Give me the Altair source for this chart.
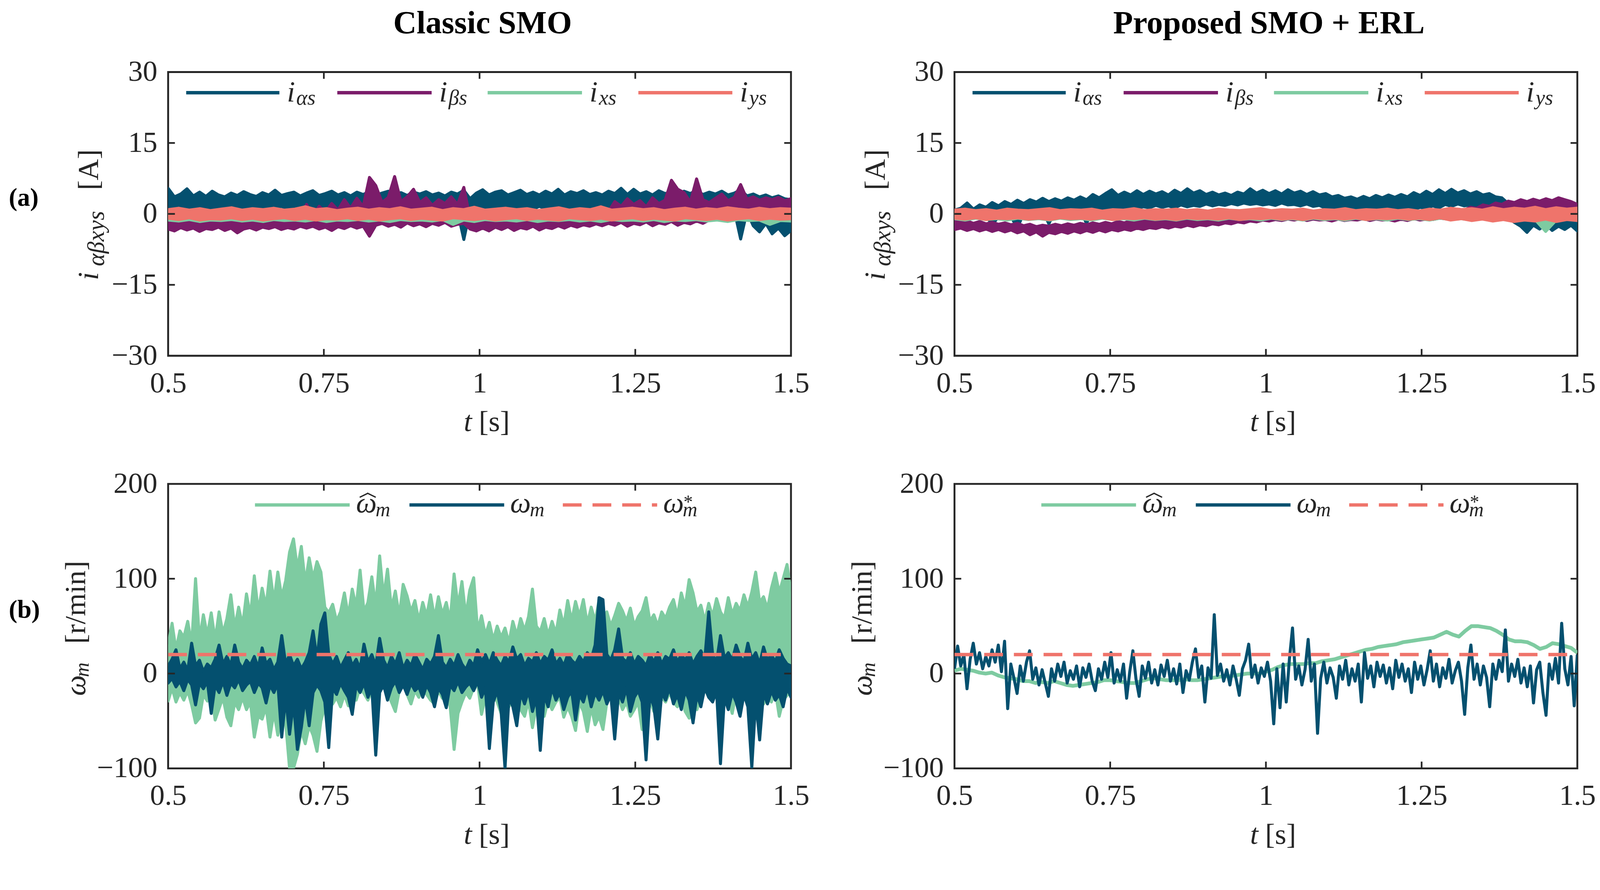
import altair as alt
import numpy as np
import pandas as pd

# ---------------- colours / fonts ----------------
BLUE = "#04506F"
PURPLE = "#7B1C6A"
GREEN = "#7ECBA1"
SALMON = "#EF746B"
FRAME = "#262626"
INK = "#262626"
SERIF = "Liberation Serif"

# ---------------- texts / ticks ----------------
panel_titles = ["Classic SMO", "Proposed SMO + ERL"]
row_labels = ["(a)", "(b)"]
x_ticks = [0.5, 0.75, 1.0, 1.25, 1.5]
cur_ticks = [-30, -15, 0, 15, 30]
spd_ticks = [-100, 0, 100, 200]
cur_subs = ["αs", "βs", "xs", "ys"]
ref_t = [0.5, 1.5]
ref_w = [20, 20]

# ---------------- (a) classic SMO currents: band upper / lower envelopes [A] ----------------
cl_ia_hi = [5.4,3.6,4.2,5.3,3.8,4.6,3.7,4.8,4.0,3.6,
            4.4,3.9,4.7,4.1,3.7,4.5,4.0,5.0,3.9,4.3,
            4.6,3.8,4.4,4.9,3.9,4.3,4.8,4.0,4.5,3.8,
            4.6,4.1,4.7,3.9,4.4,4.8,4.0,4.5,3.9,4.6,
            4.2,4.7,4.0,4.4,3.8,4.6,4.2,5.0,3.2,4.4,
            5.1,4.0,4.6,4.9,4.0,4.5,5.0,4.1,4.6,4.0,
            4.8,4.2,5.2,4.0,4.7,4.3,4.9,4.1,4.5,4.0,
            4.8,4.3,5.4,4.1,5.2,4.2,4.7,4.0,4.9,4.3,
            4.6,4.0,4.8,4.3,5.0,4.1,4.6,4.2,4.8,4.0,
            4.4,5.1,3.8,4.2,3.6,4.0,3.4,3.8,3.2,3.0]
cl_ia_lo = [-0.3,1.2,0.9,1.4,1.0,1.5,0.8,1.3,1.1,1.6,
            0.9,1.4,1.0,1.5,1.2,0.8,1.4,1.1,1.6,1.0,
            1.3,0.9,1.5,1.1,1.4,0.9,1.3,1.0,1.5,1.2,
            0.8,1.4,1.0,1.3,0.9,1.5,1.1,1.4,0.9,1.2,
            1.0,1.5,1.1,0.8,1.3,1.0,0.6,-5.4,0.9,1.3,
            1.0,1.4,0.9,1.5,1.1,1.3,0.8,1.4,1.0,1.6,
            1.1,1.3,0.9,1.5,1.0,1.4,1.2,0.8,1.3,1.0,
            1.5,1.1,1.4,0.9,1.3,1.0,1.6,1.1,1.4,0.9,
            1.3,1.0,1.5,1.2,0.8,1.4,1.0,1.3,0.9,1.2,
            0.7,-5.3,0.5,-2.5,-3.8,-2.0,-4.2,-3.0,-4.6,-3.5]
cl_ib_hi = [-1.4,-1.8,-1.3,-1.6,-1.2,-1.7,-1.4,-1.1,-1.6,-1.3,
            -1.0,-1.5,-1.2,-1.6,-0.9,-1.3,-1.1,-1.5,-0.8,-1.2,
            -0.9,-0.5,2.0,-0.3,1.6,0.4,2.2,0.8,3.0,1.2,
            3.3,1.5,7.7,6.0,2.4,3.5,7.9,2.6,3.6,5.2,
            2.4,3.4,1.8,3.0,2.2,3.6,2.0,5.6,-1.0,-1.3,
            -1.0,-1.4,-0.9,-1.3,-1.1,-1.5,-0.8,-1.2,-1.0,-1.4,
            -0.7,-1.1,-0.9,-1.3,-0.6,-1.0,-0.5,0.9,-0.3,1.2,
            0.5,2.6,1.6,3.2,2.0,2.8,1.5,3.4,2.2,2.9,
            7.1,5.2,4.5,2.5,7.4,3.0,2.4,3.3,4.2,2.8,
            3.5,6.2,3.1,3.6,2.9,3.4,3.0,3.5,2.8,3.2]
cl_ib_lo = [-3.2,-3.6,-2.9,-3.4,-3.0,-3.7,-3.1,-3.3,-2.8,-3.5,
            -3.0,-4.0,-3.2,-2.9,-3.4,-2.8,-3.1,-2.7,-3.3,-2.9,
            -3.2,-2.6,-3.0,-2.6,-3.2,-2.8,-3.5,-2.7,-3.1,-2.5,
            -3.0,-2.6,-4.7,-2.4,-2.0,-2.6,-2.2,-2.8,-1.9,-2.5,
            -2.1,-2.7,-2.0,-2.4,-1.8,-2.6,-2.2,-2.0,-3.2,-3.6,
            -3.0,-3.6,-2.8,-3.3,-2.7,-3.5,-2.9,-3.2,-2.6,-3.4,
            -2.8,-3.1,-2.5,-3.0,-2.4,-2.8,-2.3,-2.6,-2.1,-2.5,
            -2.0,-2.4,-1.8,-2.6,-2.0,-2.3,-1.7,-2.5,-1.9,-2.2,
            -1.6,-2.4,-1.8,-2.1,-1.5,-2.0,-1.3,1.2,0.9,1.4,
            1.0,1.3,0.8,1.2,1.0,1.4,0.9,1.1,0.8,1.0]
cl_ix_hi = [0.5,0.7,0.4,0.8,0.5,0.6,0.3,0.7,0.5,0.8,
            0.4,0.6,0.5,0.7,0.3,0.6,0.5,0.8,0.4,0.7,
            0.5,0.6,0.4,0.8,0.5,0.7,0.3,0.6,0.5,0.7,
            0.4,0.8,0.5,0.6,0.3,0.7,0.5,0.8,0.4,0.6,
            0.5,0.7,0.4,0.8,0.5,0.6,0.3,0.7,0.5,0.8,
            0.4,0.6,0.5,0.7,0.4,0.8,0.5,0.6,0.4,0.7]
cl_ix_lo = [-1.3,-1.5,-1.2,-1.6,-1.3,-1.4,-1.2,-1.5,-1.3,-1.6,
            -1.2,-1.4,-1.3,-1.5,-1.2,-1.6,-1.3,-1.4,-1.2,-1.5,
            -1.3,-1.6,-1.2,-1.4,-1.3,-1.5,-1.2,-2.2,-1.3,-1.6,
            -1.2,-1.4,-1.3,-1.5,-1.2,-1.6,-1.3,-1.4,-1.2,-1.5,
            -1.3,-1.6,-1.2,-1.4,-1.3,-1.5,-1.2,-1.6,-1.3,-1.4,
            -1.2,-1.5,-1.3,-1.6,-1.2,-1.4,-1.3,-2.2,-1.4,-1.5]
cl_iy_hi = [0.9,1.2,0.8,1.1,0.7,1.0,1.3,0.8,1.1,0.9,
            1.2,0.8,1.0,1.5,0.9,1.1,0.7,1.0,1.2,0.8,
            1.1,0.9,1.3,0.8,1.0,1.2,0.7,1.1,0.9,1.4,
            0.8,1.0,1.2,0.9,1.1,0.7,1.0,1.3,0.8,1.1,
            0.9,1.5,0.8,1.0,1.2,0.9,1.1,0.7,1.0,1.2,
            0.8,1.1,0.9,1.3,1.0,0.8,1.2,0.9,1.1,1.0]
cl_iy_lo = [-0.9,-1.2,-0.8,-1.3,-1.0,-1.1,-0.8,-1.2,-0.9,-1.3,
            -1.0,-0.8,-1.2,-0.9,-1.3,-1.0,-1.1,-0.8,-1.2,-0.9,
            -1.3,-1.0,-0.8,-1.2,-0.9,-1.1,-1.3,-0.8,-1.0,-1.2,
            -0.9,-1.3,-1.0,-0.8,-1.2,-0.9,-1.1,-1.3,-0.8,-1.0,
            -1.2,-0.9,-1.3,-1.0,-0.8,-1.2,-0.9,-1.1,-1.3,-0.8,
            -1.0,-1.2,-0.9,-1.3,-1.0,-0.8,-1.2,-0.9,-1.1,-1.0]

# ---------------- (a) proposed SMO + ERL currents [A] ----------------
pr_ia_hi = [0.8,1.2,2.3,1.0,1.9,1.4,2.4,1.7,2.6,2.0,
            2.9,2.2,3.0,2.5,3.3,2.6,3.2,2.7,3.4,2.9,
            3.6,3.0,4.1,3.4,4.3,5.1,3.9,4.6,4.0,4.9,
            4.1,4.8,4.2,4.7,4.0,5.0,4.3,5.3,4.4,4.9,
            4.1,4.6,4.0,4.4,3.9,4.6,4.2,5.3,4.4,5.0,
            4.3,4.9,4.2,5.1,4.4,4.8,4.1,4.7,4.0,4.3,
            3.6,3.9,3.3,3.6,3.1,3.7,3.2,3.9,3.4,4.0,
            3.5,4.1,3.6,4.5,3.9,4.8,4.1,5.1,4.3,5.2,
            4.4,4.9,4.2,4.7,4.0,4.3,3.6,3.4,2.2,0.6,
            -0.4,-0.9,-0.5,-1.1,-0.6,-1.0,-0.4,-0.9,-0.5,-0.8]
pr_ia_lo = [-0.9,-0.4,-1.2,-0.3,-0.8,-0.2,-2.4,-0.5,0.0,-0.6,
            -3.0,0.2,0.6,0.1,0.8,-2.1,0.7,1.0,0.5,0.9,
            0.6,-2.0,1.1,0.8,1.3,0.9,1.4,1.1,1.6,1.2,
            1.5,1.3,1.8,1.4,1.7,1.3,1.9,1.5,1.8,1.6,
            2.1,1.7,2.0,1.8,2.2,1.9,2.3,2.0,2.2,1.9,
            2.1,1.8,2.3,1.9,2.0,1.7,2.1,1.6,1.8,1.2,
            0.9,0.6,1.0,0.5,0.8,0.4,0.9,0.6,1.1,0.7,
            1.0,0.6,1.2,0.9,1.4,1.1,1.7,1.3,2.0,1.6,
            2.1,1.7,1.9,1.5,1.8,1.3,1.0,0.4,-0.8,-1.8,
            -2.6,-3.9,-2.4,-3.2,-2.2,-3.5,-2.6,-3.3,-2.4,-3.6]
pr_ib_hi = [-1.4,-1.8,-1.5,-2.0,-1.6,-2.1,-1.8,-2.2,-1.9,-2.3,
            -2.0,-2.5,-2.2,-2.7,-2.4,-2.6,-2.2,-2.5,-2.1,-2.4,
            -2.0,-2.3,-1.9,-2.2,-1.8,-2.1,-1.6,-1.9,-1.4,-1.7,
            -1.1,-1.4,-0.9,-1.2,-0.7,-1.0,-0.5,-0.8,-0.3,-0.6,
            -0.2,-0.4,0.0,-0.2,0.1,-0.1,0.2,0.0,0.3,0.1,
            0.3,0.1,0.4,0.2,0.3,0.0,0.4,0.2,0.3,0.1,
            0.4,0.2,0.3,0.1,0.4,0.2,0.3,0.0,0.4,0.2,
            0.3,0.1,0.4,0.2,0.5,0.3,0.6,0.4,0.8,0.6,
            1.0,0.8,1.4,1.2,1.9,1.6,2.3,2.0,2.7,2.4,
            3.0,2.6,3.1,2.7,3.2,2.8,3.4,3.0,2.6,2.0]
pr_ib_lo = [-3.3,-3.0,-3.5,-3.1,-3.6,-3.2,-3.7,-3.3,-3.8,-3.4,
            -4.0,-3.6,-4.4,-3.8,-4.7,-3.9,-4.2,-3.7,-4.1,-3.6,
            -4.0,-3.5,-3.9,-3.4,-3.8,-3.3,-3.6,-3.2,-3.5,-3.0,
            -3.3,-2.9,-3.1,-2.7,-3.0,-2.6,-2.8,-2.4,-2.7,-2.3,
            -2.5,-2.1,-2.3,-1.9,-2.1,-1.7,-1.9,-1.5,-1.7,-1.3,
            -1.5,-1.2,-1.4,-1.1,-1.3,-1.0,-1.4,-1.1,-1.3,-1.2,
            -1.5,-1.1,-1.4,-1.2,-1.3,-1.0,-1.4,-1.1,-1.3,-1.2,
            -1.5,-1.1,-1.4,-1.0,-1.3,-1.1,-1.2,-0.9,-1.0,-0.7,
            -0.6,-0.3,-0.1,0.2,0.4,0.6,0.8,0.7,1.0,0.9,
            1.1,0.9,1.2,1.0,1.3,1.1,1.4,1.0,0.8,0.5]
pr_ix_hi = [0.4,0.6,0.3,0.5,0.4,0.6,0.3,0.5,0.4,0.6,
            0.3,0.5,0.4,0.6,0.3,0.5,0.4,0.6,0.3,0.5,
            0.4,0.6,0.3,0.5,0.4,0.6,0.3,0.5,0.4,0.6,
            0.3,0.5,0.4,0.6,0.3,0.5,0.4,0.6,0.3,0.5,
            0.4,0.6,0.3,0.5,0.4,0.6,0.3,0.5,0.4,0.6,
            0.3,0.5,0.4,0.6,0.3,0.5,0.4,0.6,0.3,0.5]
pr_ix_lo = [-1.0,-1.3,-0.9,-1.2,-1.0,-1.3,-0.9,-1.2,-1.0,-1.3,
            -0.9,-1.2,-1.0,-1.3,-0.9,-1.2,-1.0,-1.3,-0.9,-1.2,
            -1.0,-1.3,-0.9,-1.2,-1.0,-1.3,-0.9,-1.2,-1.0,-1.3,
            -0.9,-1.2,-1.0,-1.3,-0.9,-1.2,-1.0,-1.3,-0.9,-1.2,
            -1.0,-1.3,-0.9,-1.2,-1.0,-1.3,-0.9,-1.2,-1.0,-1.3,
            -0.9,-1.2,-1.0,-1.3,-0.9,-1.2,-3.7,-1.3,-1.1,-1.2]
pr_iy_hi = [0.8,1.0,0.7,0.9,0.6,1.0,0.8,0.7,0.9,1.1,
            0.7,0.9,0.8,1.0,0.6,0.9,0.8,1.1,0.7,0.9,
            0.8,1.0,0.7,0.9,0.6,1.0,0.8,0.7,0.9,1.1,
            0.7,0.9,0.8,1.0,0.6,0.9,0.8,1.1,0.7,0.9,
            0.8,1.0,0.7,0.9,0.6,1.0,0.8,1.2,0.9,1.1,
            0.8,1.3,0.9,1.2,1.0,1.4,0.9,1.3,1.0,1.2]
pr_iy_lo = [-0.9,-1.1,-0.8,-1.2,-0.9,-1.0,-0.8,-1.1,-0.9,-1.2,
            -0.8,-1.0,-0.9,-1.1,-0.8,-1.2,-0.9,-1.0,-0.8,-1.1,
            -0.9,-1.2,-0.8,-1.0,-0.9,-1.1,-0.8,-1.2,-0.9,-1.0,
            -0.8,-1.1,-0.9,-1.2,-0.8,-1.0,-0.9,-1.1,-0.8,-1.2,
            -0.9,-1.0,-0.8,-1.1,-0.9,-1.2,-0.8,-1.3,-1.0,-1.4,
            -1.1,-1.5,-1.2,-1.6,-1.3,-1.5,-1.1,-1.6,-1.2,-1.4]

# ---------------- (b) classic SMO speed: envelopes [r/min] ----------------
cl_west_hi = [30,53,25,45,38,55,30,100,35,62,
              40,64,35,65,42,58,83,48,70,50,
              84,60,103,65,90,70,108,75,107,80,
              98,128,142,110,134,95,122,100,118,107,
              70,64,73,55,65,85,60,89,70,109,
              65,75,102,70,124,80,110,68,87,60,
              94,82,65,77,55,75,60,83,58,81,
              62,75,55,105,70,97,60,88,101,45,
              61,40,54,35,50,38,48,32,55,40,
              58,45,60,89,50,44,58,40,55,42,
              67,50,77,55,76,60,78,52,70,55,
              77,60,65,50,61,74,66,55,69,50,
              60,66,80,55,62,50,65,58,70,78,
              60,85,70,99,85,65,72,55,74,60,
              79,65,58,80,62,74,66,83,70,86,
              107,75,81,68,90,106,85,100,115,85]
cl_west_lo = [-29,-15,-30,-20,-28,-18,-33,-52,-47,-22,
              -29,-18,-49,-37,-25,-46,-55,-30,-38,-25,
              -38,-30,-67,-45,-48,-35,-67,-40,-65,-45,
              -52,-100,-100,-85,-60,-74,-55,-65,-82,-50,
              -35,-20,-32,-25,-35,-22,-34,-20,-28,-15,
              -21,-28,-18,-25,-15,-10,-20,-30,-40,-18,
              -8,-22,-32,-18,-25,-12,-22,-28,-32,-18,
              -26,-20,-35,-80,-42,-30,-20,-26,-15,-10,
              -43,-25,-37,-20,-30,-42,-21,-35,-25,-30,
              -38,-45,-28,-57,-35,-30,-45,-28,-38,-30,
              -25,-46,-35,-45,-60,-30,-40,-61,-35,-54,
              -45,-59,-30,-20,-33,-25,-38,-30,-45,-38,
              -30,-59,-35,-28,-40,-38,-25,-30,-20,-30,
              -35,-25,-40,-47,-30,-38,-22,-15,-25,-10,
              -20,-30,-15,-25,-42,-20,-8,-18,-12,-22,
              -28,-20,-32,-25,-30,-18,-45,-28,-23,-20]
cl_w_hi = [8,15,25,5,12,3,32,8,14,2,
           10,6,15,30,10,18,8,30,12,5,
           14,9,18,6,27,10,15,4,12,40,
           10,20,8,15,5,12,22,45,15,52,
           64,20,10,18,6,14,22,8,15,5,
           31,12,20,8,37,14,6,18,10,22,
           5,14,8,20,12,4,15,10,18,40,
           12,6,15,8,20,10,4,14,8,25,
           12,20,10,22,14,8,18,12,28,15,
           20,8,16,12,22,10,18,14,25,10,
           16,8,20,14,10,18,12,22,15,30,
           80,78,20,14,25,47,16,12,22,10,
           18,14,8,20,12,22,10,18,15,25,
           12,20,14,22,10,18,24,15,65,20,
           12,40,16,22,14,30,18,12,32,15,
           22,10,28,14,20,12,25,16,10,8]
cl_w_lo = [-10,-5,-14,-8,-18,-6,-12,-33,-10,-16,
           -8,-42,-12,-20,-8,-23,-10,-15,-6,-18,
           -12,-8,-20,-10,-15,-31,-12,-20,-10,-67,
           -25,-64,-30,-80,-57,-25,-55,-20,-12,-18,
           -30,-78,-15,-22,-10,-18,-25,-43,-12,-20,
           -10,-25,-15,-86,-20,-12,-28,-15,-8,-20,
           -12,-22,-10,-18,-14,-25,-12,-20,-35,-15,
           -22,-36,-12,-18,-8,-20,-14,-10,-18,-8,
           -25,-15,-79,-30,-18,-40,-100,-25,-35,-55,
           -20,-32,-18,-40,-25,-81,-22,-35,-15,-28,
           -20,-38,-25,-18,-49,-22,-30,-15,-35,-20,
           -28,-18,-32,-22,-69,-20,-30,-15,-40,-25,
           -18,-30,-91,-22,-35,-69,-20,-28,-15,-32,
           -22,-38,-18,-28,-52,-22,-35,-15,-25,-30,
           -18,-95,-25,-38,-20,-30,-45,-22,-35,-99,
           -28,-70,-20,-32,-18,-28,-22,-35,-15,-25]

# ---------------- (b) proposed SMO + ERL speed [r/min] ----------------
pr_west = [3,5,4,3,1,0,1,-2,-4,-5,
           -6,-8,-8,-10,-9,-10,-8,-10,-12,-13,
           -12,-11,-10,-9,-7,-7,-8,-9,-10,-10,
           -8,-6,-5,-6,-7,-7,-7,-6,-7,-7,
           -6,-5,-4,-3,-3,-2,-1,0,0,0,
           2,4,7,9,10,10,10,11,11,13,
           14,15,17,19,21,23,25,26,28,29,
           30,31,33,34,35,36,37,38,41,44,
           41,39,45,50,50,49,48,45,41,36,
           34,34,33,30,26,28,32,31,29,27,
           22]
pr_w = [5,29,8,20,-16,15,32,10,22,5,
        18,8,25,12,30,2,34,-37,10,-5,
        -21,8,-8,12,24,-6,6,-12,4,-10,
        -24,5,-8,10,-3,12,-10,3,-6,8,
        -14,6,-4,10,-8,-18,5,-6,12,-4,
        22,-10,4,-8,10,-26,2,24,-6,-24,
        8,-5,12,-10,4,-12,9,-3,14,-8,
        5,-11,10,-20,3,-7,12,26,-4,8,
        -30,6,-5,62,-2,10,-8,4,-12,8,
        -6,-23,5,14,31,-4,9,-10,6,-3,
        12,-8,-53,5,-36,10,-30,15,48,-6,
        8,-12,4,36,-8,10,-63,-5,12,-10,
        6,-4,-26,8,-6,14,-12,5,-8,10,
        -30,22,-5,8,-14,12,-3,9,-10,6,
        -16,14,-4,10,-8,5,-20,12,-6,8,
        -12,4,24,-8,10,-14,6,-5,15,-10,
        3,12,-8,-43,6,30,-6,10,-12,8,
        -4,-35,10,-6,14,2,46,-8,10,-3,
        15,-10,6,-14,8,-31,4,12,-20,-44,
        10,-6,16,-10,53,5,-12,18,-34,20]

# ---------------- layout constants ----------------
W = 1657
H_TOP = 755
H_BOT = 757
TICK = 18
ONE = pd.DataFrame({"k": [0]})

XSCALE = alt.Scale(domain=[0.5, 1.5], nice=False, zero=False)
CUR_SCALE = alt.Scale(domain=[-30, 30], nice=False, zero=False)
SPD_SCALE = alt.Scale(domain=[-100, 200], nice=False, zero=False)
XAX = alt.Axis(values=x_ticks, format=".3~g", title=None, ticks=False, tickSize=0,
               domain=False, grid=False, labelFont=SERIF, labelFontSize=78,
               labelColor=INK, labelPadding=35, labelFlush=False, labelOverlap=False)


def y_axis(vals):
    return alt.Axis(values=vals, format="d", title=None, ticks=False, tickSize=0,
                    domain=False, grid=False, labelFont=SERIF, labelFontSize=78,
                    labelColor=INK, labelPadding=29, labelOverlap=False)


CUR_AX = y_axis(cur_ticks)
SPD_AX = y_axis(spd_ticks)


def X(f):
    return alt.X(f + ":Q", scale=XSCALE, axis=XAX)


def band_df(hi, lo):
    n = min(len(hi), len(lo))
    return pd.DataFrame({"t": np.linspace(0.5, 1.5, n),
                         "hi": np.asarray(hi[:n], float),
                         "lo": np.asarray(lo[:n], float)})


def band(hi, lo, color, sc, ax, sw=8):
    return alt.Chart(band_df(hi, lo)).mark_area(
        color=color, stroke=color, strokeWidth=sw, strokeJoin="round", clip=True
    ).encode(x=X("t"), y=alt.Y("hi:Q", scale=sc, axis=ax), y2=alt.Y2("lo:Q"))


def line(vals, color, sc, ax, sw=8):
    df = pd.DataFrame({"t": np.linspace(0.5, 1.5, len(vals)), "v": np.asarray(vals, float)})
    return alt.Chart(df).mark_line(color=color, strokeWidth=sw, strokeJoin="round",
                                   clip=True).encode(
        x=X("t"), y=alt.Y("v:Q", scale=sc, axis=ax))


def ref_line(sc, ax):
    df = pd.DataFrame({"t": ref_t, "v": ref_w})
    return alt.Chart(df).mark_line(color=SALMON, strokeWidth=9, strokeDash=[50, 29],
                                   strokeCap="butt", clip=True).encode(
        x=X("t"), y=alt.Y("v:Q", scale=sc, axis=ax))


def inner_ticks(yvals, sc, ax, H):
    dx = pd.DataFrame({"v": x_ticks[1:-1]})
    dy = pd.DataFrame({"v": yvals})
    kw = dict(color=FRAME, strokeWidth=4.5)
    return [
        alt.Chart(dx).mark_rule(**kw).encode(x=X("v"), y=alt.value(0), y2=alt.value(TICK)),
        alt.Chart(dx).mark_rule(**kw).encode(x=X("v"), y=alt.value(H - TICK), y2=alt.value(H)),
        alt.Chart(dy).mark_rule(**kw).encode(y=alt.Y("v:Q", scale=sc, axis=ax),
                                             x=alt.value(0), x2=alt.value(TICK)),
        alt.Chart(dy).mark_rule(**kw).encode(y=alt.Y("v:Q", scale=sc, axis=ax),
                                             x=alt.value(W - TICK), x2=alt.value(W)),
    ]


def txt(text, x, y, size=78, align="left", baseline="alphabetic", angle=0,
        style="normal", weight="normal", color=INK):
    return alt.Chart(ONE).mark_text(
        text=text, align=align, baseline=baseline, angle=angle, font=SERIF,
        fontSize=size, fontStyle=style, fontWeight=weight, color=color
    ).encode(x=alt.value(x), y=alt.value(y))


def seg(x1, y1, x2, y2, color=INK, sw=3.5):
    return alt.Chart(ONE).mark_rule(color=color, strokeWidth=sw, strokeCap="round").encode(
        x=alt.value(x1), y=alt.value(y1), x2=alt.value(x2), y2=alt.value(y2))


def leg_line(x1, x2, y, color, dash=None):
    kw = dict(color=color, strokeWidth=9, strokeCap="butt")
    if dash:
        kw["strokeDash"] = dash
    return alt.Chart(ONE).mark_rule(**kw).encode(x=alt.value(x1), x2=alt.value(x2), y=alt.value(y))


def x_title(H):
    return [txt("t", W / 2 - 42, H + 201, style="italic"),
            txt("[s]", W / 2 - 2, H + 201)]


def current_panel(col):
    H = H_TOP
    if col == 0:
        data = [(cl_ia_hi, cl_ia_lo, BLUE), (cl_ib_hi, cl_ib_lo, PURPLE),
                (cl_ix_hi, cl_ix_lo, GREEN), (cl_iy_hi, cl_iy_lo, SALMON)]
    else:
        data = [(pr_ia_hi, pr_ia_lo, BLUE), (pr_ib_hi, pr_ib_lo, PURPLE),
                (pr_ix_hi, pr_ix_lo, GREEN), (pr_iy_hi, pr_iy_lo, SALMON)]
    layers = [band(h, l, c, CUR_SCALE, CUR_AX) for h, l, c in data]
    layers += inner_ticks([-15, 0, 15], CUR_SCALE, CUR_AX, H)
    # legend
    segs = [(48, 296), (450, 701), (850, 1101), (1251, 1501)]
    cols = [BLUE, PURPLE, GREEN, SALMON]
    for (x1, x2), c, sub in zip(segs, cols, cur_subs):
        layers.append(leg_line(x1, x2, 55, c))
        layers.append(txt("i", x2 + 20, 78, style="italic"))
        layers.append(txt(sub, x2 + 45, 87, size=56, style="italic"))
    # y title
    layers.append(txt("i", -186, 554, angle=270, style="italic"))
    layers.append(txt("αβxys", -171, 443, size=64, align="center", angle=270, style="italic"))
    layers.append(txt("[A]", -186, 260, align="center", angle=270))
    layers += x_title(H)
    # panel title
    layers.append(txt(panel_titles[col], W / 2 + 8, -103, size=86, align="center",
                      weight="bold", color="#000000"))
    if col == 0:
        layers.append(txt(row_labels[0], -424, 336, size=68, baseline="middle",
                          weight="bold", color="#000000"))
    return alt.layer(*layers).properties(width=W, height=H)


def speed_panel(col):
    H = H_BOT
    if col == 0:
        layers = [band(cl_west_hi, cl_west_lo, GREEN, SPD_SCALE, SPD_AX),
                  band(cl_w_hi, cl_w_lo, BLUE, SPD_SCALE, SPD_AX)]
    else:
        layers = [line(pr_west, GREEN, SPD_SCALE, SPD_AX, sw=10),
                  line(pr_w, BLUE, SPD_SCALE, SPD_AX, sw=8)]
    layers.append(ref_line(SPD_SCALE, SPD_AX))
    layers += inner_ticks([0, 100], SPD_SCALE, SPD_AX, H)
    # legend
    layers.append(leg_line(231, 483, 56, GREEN))
    layers.append(leg_line(642, 894, 56, BLUE))
    layers.append(leg_line(1050, 1301, 56, SALMON, dash=[50, 29]))
    for x0 in [500, 910, 1317]:
        layers.append(txt("ω", x0, 76, style="italic"))
        layers.append(txt("m", x0 + 52, 86, size=54, style="italic"))
    # wide hat over the estimated speed symbol
    layers.append(seg(511, 35, 531, 25))
    layers.append(seg(531, 25, 551, 35))
    layers.append(txt("*", 1317 + 54, 64, size=50))
    # y title
    layers.append(txt("ω", -221, 564, angle=270, style="italic"))
    layers.append(txt("m", -211, 514, size=54, angle=270, style="italic"))
    layers.append(txt("[r/min]", -221, 315, align="center", angle=270))
    layers += x_title(H)
    if col == 0:
        layers.append(txt(row_labels[1], -424, 336, size=68, baseline="middle",
                          weight="bold", color="#000000"))
    return alt.layer(*layers).properties(width=W, height=H)


chart = alt.concat(
    current_panel(0), current_panel(1), speed_panel(0), speed_panel(1),
    columns=2,
    spacing=alt.RowColnumber(row=341, column=435),
    bounds="flush",
    padding={"left": 12, "top": -35, "right": 0, "bottom": 0},
).configure_view(stroke=FRAME, strokeWidth=5)

chart.save("out.html", embed_options={"renderer": "svg", "actions": False})
